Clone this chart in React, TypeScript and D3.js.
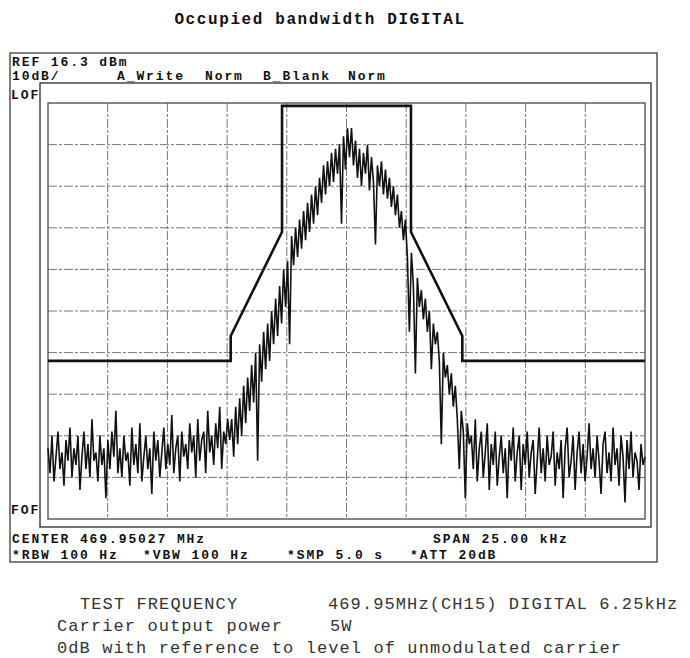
import React from 'react';
import * as d3 from 'd3';

const W = 690;
const H = 658;

// Frequency offsets (kHz) of the graticule verticals, span 25 kHz
const gridFreqs = [-12.5, -10, -7.5, -5, -2.5, 0, 2.5, 5, 7.5, 10, 12.5];
// Levels (dB below reference) of the graticule horizontals, 10 dB/div
const gridLevels = [0, -10, -20, -30, -40, -50, -60, -70, -80, -90, -100];

// Limit mask (thick line)
const maskFreqs = [-12.5, -4.85, -4.85, -2.7, -2.7, 2.7, 2.7, 4.85, 4.85, 12.5];
const maskLevels = [-62, -62, -56, -31, -0.7, -0.7, -31, -56, -62, -62];

// Spectrum trace, dB relative to reference, equally spaced across the span
const floorLeft = [
  -83, -89, -80, -91, -85, -79, -88, -84, -92, -81,
  -86, -78, -90, -83, -87, -80, -93, -85, -79, -88,
  -82, -90, -76, -86, -84, -91, -80, -87, -83, -95,
  -81, -88, -79, -85, -74, -89, -83, -90, -80, -86,
  -84, -92, -78, -87, -82, -89, -77, -91, -85, -80,
  -88, -83, -94, -79, -86, -81, -90, -84, -78, -88,
  -82, -87, -75, -89, -83, -80, -91, -79, -85, -82,
  -88, -77, -84, -80, -90, -76, -86, -81, -79, -89,
  -74, -84, -80, -87, -77, -83, -73, -88, -79, -82,
  -76, -81,
];
const skirtLeft = [
  -76, -85, -73, -82, -71, -80, -68, -77, -66, -74,
  -63, -72, -60, -86, -58, -67, -55, -64, -53, -62,
  -50, -58, -47, -56, -44, -53, -40, -49, -38, -58,
];
const riseUpper = [
  -32, -39, -30, -37, -28, -35, -26, -33, -24, -31,
  -22, -29, -20, -27, -18, -24, -15, -22, -14, -20,
  -12, -19, -11, -17, -10, -29, -8, -16, -6, -13,
];
const peakFall = [
  -6, -15, -9, -18, -11, -20, -12, -17, -10, -21,
  -13, -19, -34, -15, -20, -14, -22, -16, -23, -18,
  -25, -20, -27, -22, -30, -26, -33, -28, -37, -55,
];
const skirtRight = [
  -36, -44, -65, -42, -49, -45, -52, -47, -55, -50,
  -64, -53, -58, -55, -62, -82, -60, -66, -63, -70,
  -65, -73, -68, -76, -88, -74, -79, -95, -77, -82,
];
const floorRight = [
  -80, -88, -76, -91, -83, -79, -90, -84, -77, -93,
  -82, -87, -79, -92, -85, -80, -89, -83, -95, -81,
  -86, -78, -91, -84, -80, -93, -82, -87, -79, -90,
  -84, -81, -94, -86, -78, -89, -83, -91, -80, -87,
  -85, -79, -92, -84, -88, -81, -95, -83, -78, -90,
  -86, -80, -93, -84, -79, -89, -82, -91, -85, -77,
  -88, -83, -90, -80, -86, -94, -82, -79, -89, -84,
  -91, -78, -87, -83, -92, -80, -85, -96, -81, -88,
  -79, -90, -84, -86, -93, -82, -87, -85,
];
const traceLevels = [...floorLeft, ...skirtLeft, ...riseUpper, ...peakFall, ...skirtRight, ...floorRight];

const title = 'Occupied bandwidth DIGITAL';
const headerRef = 'REF 16.3 dBm';
const headerRow = [
  { t: '10dB/', x: 12 },
  { t: 'A_Write', x: 117 },
  { t: 'Norm', x: 205 },
  { t: 'B_Blank', x: 263 },
  { t: 'Norm', x: 348 },
];
const footerRow1 = [
  { t: 'CENTER 469.95027 MHz', x: 12 },
  { t: 'SPAN 25.00 kHz', x: 433 },
];
const footerRow2 = [
  { t: '*RBW 100 Hz', x: 12 },
  { t: '*VBW 100 Hz', x: 143 },
  { t: '*SMP 5.0 s', x: 287 },
  { t: '*ATT 20dB', x: 410 },
];
const notes = [
  { t: 'TEST FREQUENCY', x: 80, y: 609 },
  { t: '469.95MHz(CH15) DIGITAL 6.25kHz', x: 328, y: 609 },
  { t: 'Carrier output power', x: 57, y: 631 },
  { t: '5W', x: 330, y: 631 },
  { t: '0dB with reference to level of unmodulated carrier', x: 57, y: 653 },
];

const mono = "'Liberation Mono', 'DejaVu Sans Mono', monospace";

export default function App() {
  const x = d3.scaleLinear().domain([-12.5, 12.5]).range([48, 645]);
  const y = d3.scaleLinear().domain([-100, 0]).range([519, 103]);
  const idx = d3.scaleLinear().domain([0, traceLevels.length - 1]).range([-12.5, 12.5]);

  const traceLine = d3
    .line<number>()
    .x((_, i) => x(idx(i)))
    .y((d) => y(d));
  const maskLine = d3
    .line<number>()
    .x((_, i) => x(maskFreqs[i]))
    .y((d) => y(d));

  const hdr = { fontFamily: mono, fontSize: 13, fontWeight: 700, letterSpacing: 1.9, fill: '#111' } as const;

  return (
    <svg
      width={W}
      height={H}
      viewBox={`0 0 ${W} ${H}`}
      style={{ position: 'absolute', left: 0, top: 0, background: '#fff' }}
    >
      <rect x={0} y={0} width={W} height={H} fill="#fff" />
      <text
        x={320}
        y={24}
        textAnchor="middle"
        fontFamily={mono}
        fontSize={16}
        fontWeight={700}
        letterSpacing={1.6}
        fill="#111"
      >
        {title}
      </text>

      {/* frames */}
      <rect x={10} y={53} width={647} height={509} fill="none" stroke="#555" strokeWidth={1.5} />
      <rect x={40} y={83} width={611} height={444} fill="none" stroke="#444" strokeWidth={1.5} />

      {/* header */}
      <text x={12} y={66} {...hdr}>{headerRef}</text>
      {headerRow.map((h, i) => (
        <text key={i} x={h.x} y={80} {...hdr}>{h.t}</text>
      ))}
      <text x={11} y={99} {...hdr}>LOF</text>
      <text x={11} y={514} {...hdr}>FOF</text>

      {/* graticule */}
      {gridFreqs.slice(1, -1).map((f) => (
        <line
          key={'v' + f}
          x1={x(f)}
          x2={x(f)}
          y1={y(0)}
          y2={y(-100)}
          stroke="#777"
          strokeWidth={1}
          strokeDasharray="9 2 3 2"
        />
      ))}
      {gridLevels.slice(1, -1).map((l) => (
        <line
          key={'h' + l}
          x1={x(-12.5)}
          x2={x(12.5)}
          y1={y(l)}
          y2={y(l)}
          stroke="#777"
          strokeWidth={1}
          strokeDasharray="9 2 3 2"
        />
      ))}
      <rect
        x={x(-12.5)}
        y={y(0)}
        width={x(12.5) - x(-12.5)}
        height={y(-100) - y(0)}
        fill="none"
        stroke="#555"
        strokeWidth={1.4}
      />

      {/* trace */}
      <path d={traceLine(traceLevels) || ''} fill="none" stroke="#111" strokeWidth={1.6} strokeLinejoin="miter" />
      {/* mask */}
      <path d={maskLine(maskLevels) || ''} fill="none" stroke="#111" strokeWidth={2.6} />

      {/* footer */}
      {footerRow1.map((f, i) => (
        <text key={'f1' + i} x={f.x} y={543} {...hdr}>{f.t}</text>
      ))}
      {footerRow2.map((f, i) => (
        <text key={'f2' + i} x={f.x} y={559} {...hdr}>{f.t}</text>
      ))}

      {/* notes */}
      {notes.map((n, i) => (
        <text
          key={'n' + i}
          x={n.x}
          y={n.y}
          fontFamily={mono}
          fontSize={17}
          letterSpacing={1.1}
          fill="#333"
        >
          {n.t}
        </text>
      ))}
    </svg>
  );
}
